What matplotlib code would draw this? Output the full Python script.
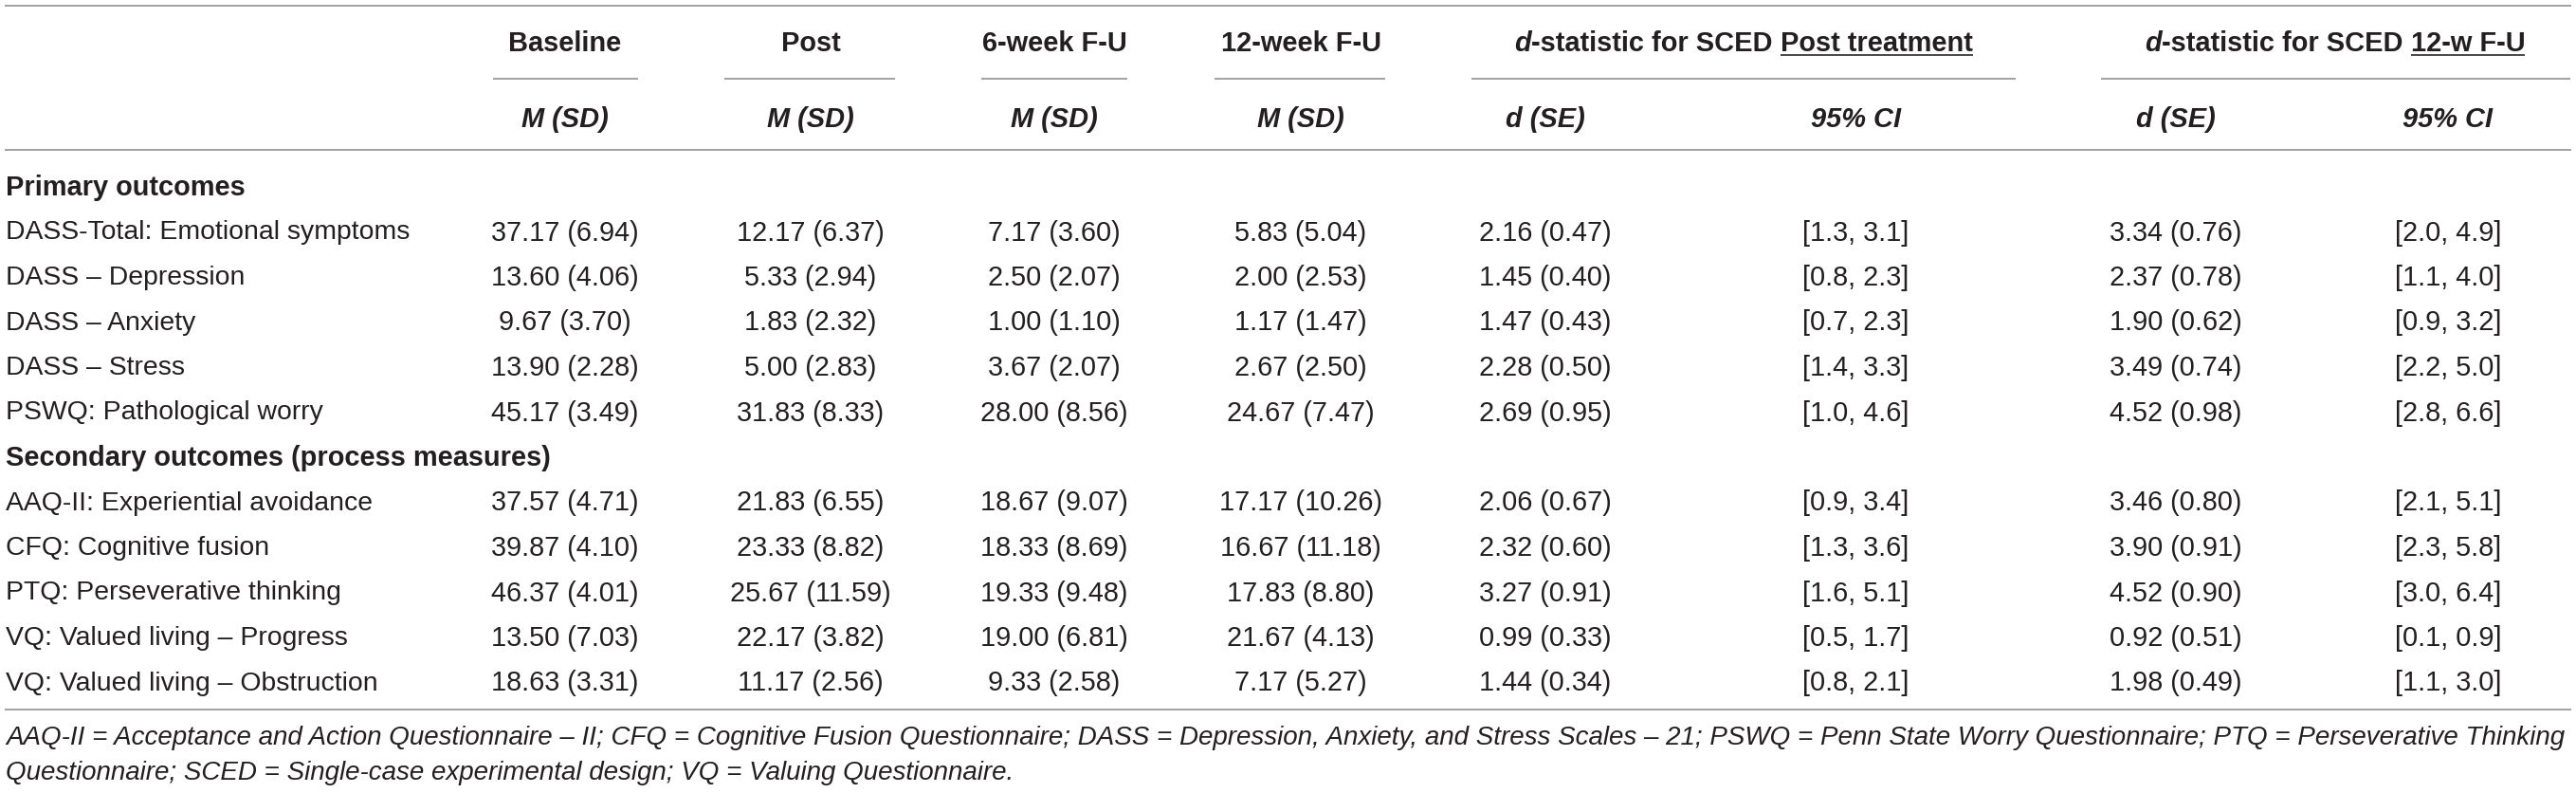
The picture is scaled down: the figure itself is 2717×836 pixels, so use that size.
import matplotlib
matplotlib.use("Agg")
import matplotlib.pyplot as plt

# ---------------- data ----------------
section_titles = ["Primary outcomes", "Secondary outcomes (process measures)"]
labels_primary = ["DASS-Total: Emotional symptoms", "DASS – Depression", "DASS – Anxiety",
                  "DASS – Stress", "PSWQ: Pathological worry"]
labels_secondary = ["AAQ-II: Experiential avoidance", "CFQ: Cognitive fusion",
                    "PTQ: Perseverative thinking", "VQ: Valued living – Progress",
                    "VQ: Valued living – Obstruction"]

baseline_m = [37.17, 13.60, 9.67, 13.90, 45.17, 37.57, 39.87, 46.37, 13.50, 18.63]
baseline_sd = [6.94, 4.06, 3.70, 2.28, 3.49, 4.71, 4.10, 4.01, 7.03, 3.31]
post_m = [12.17, 5.33, 1.83, 5.00, 31.83, 21.83, 23.33, 25.67, 22.17, 11.17]
post_sd = [6.37, 2.94, 2.32, 2.83, 8.33, 6.55, 8.82, 11.59, 3.82, 2.56]
fu6_m = [7.17, 2.50, 1.00, 3.67, 28.00, 18.67, 18.33, 19.33, 19.00, 9.33]
fu6_sd = [3.60, 2.07, 1.10, 2.07, 8.56, 9.07, 8.69, 9.48, 6.81, 2.58]
fu12_m = [5.83, 2.00, 1.17, 2.67, 24.67, 17.17, 16.67, 17.83, 21.67, 7.17]
fu12_sd = [5.04, 2.53, 1.47, 2.50, 7.47, 10.26, 11.18, 8.80, 4.13, 5.27]
d_post = [2.16, 1.45, 1.47, 2.28, 2.69, 2.06, 2.32, 3.27, 0.99, 1.44]
se_post = [0.47, 0.40, 0.43, 0.50, 0.95, 0.67, 0.60, 0.91, 0.33, 0.34]
ci_post_lo = [1.3, 0.8, 0.7, 1.4, 1.0, 0.9, 1.3, 1.6, 0.5, 0.8]
ci_post_hi = [3.1, 2.3, 2.3, 3.3, 4.6, 3.4, 3.6, 5.1, 1.7, 2.1]
d_fu12 = [3.34, 2.37, 1.90, 3.49, 4.52, 3.46, 3.90, 4.52, 0.92, 1.98]
se_fu12 = [0.76, 0.78, 0.62, 0.74, 0.98, 0.80, 0.91, 0.90, 0.51, 0.49]
ci_fu12_lo = [2.0, 1.1, 0.9, 2.2, 2.8, 2.1, 2.3, 3.0, 0.1, 1.1]
ci_fu12_hi = [4.9, 4.0, 3.2, 5.0, 6.6, 5.1, 5.8, 6.4, 0.9, 3.0]

time_headers = ["Baseline", "Post", "6-week F-U", "12-week F-U"]
footnote = ["AAQ-II = Acceptance and Action Questionnaire – II; CFQ = Cognitive Fusion Questionnaire; "
            "DASS = Depression, Anxiety, and Stress Scales – 21; PSWQ = Penn State Worry Questionnaire; "
            "PTQ = Perseverative Thinking",
            "Questionnaire; SCED = Single-case experimental design; VQ = Valuing Questionnaire."]

# ---------------- layout ----------------
W, H = 2717, 836
DPI = 100
FONT = "Liberation Sans"
TXT = "#231f20"
GRAY = "#a3a3a3"

fig = plt.figure(figsize=(W / DPI, H / DPI), dpi=DPI)
ax = fig.add_axes([0, 0, 1, 1])
ax.set_xlim(0, W)
ax.set_ylim(H, 0)
ax.axis("off")
renderer = fig.canvas.get_renderer()

col_x = [596, 855, 1112, 1372, 1630, 1957, 2295, 2582]
label_x = 6
row_y0 = 195
row_step = 47.5


def hline(x0, x1, y, lw=2.0, color=GRAY):
    ax.plot([x0, x1], [y, y], color=color, lw=lw * 72 / DPI, solid_capstyle="butt")


def txt(x, y, s, **kw):
    base = dict(fontfamily=FONT, color=TXT, va="center_baseline", fontsize=18)
    base.update(kw)
    return ax.text(x, y, s, **base)


def width_of(s, **kw):
    t = txt(0, 0, s, **kw)
    w = t.get_window_extent(renderer).width
    t.remove()
    return w


def fit_size(s, target, **kw):
    kw = dict(kw)
    kw["fontsize"] = 20.0
    return 20.0 * target / width_of(s, **kw)


FS_LAB = fit_size("DASS-Total: Emotional symptoms", 424)
FS_NUM = fit_size("37.17 (6.94)", 156)
FSH = fit_size("Primary outcomes", 253, fontweight="bold")
FSF = fit_size(footnote[0], 2701, style="italic")


def rich_center(xc, y, segs, underline=None):
    widths = [width_of(s, **k) for s, k in segs]
    total = sum(widths)
    x = xc - total / 2
    for (s, k), w in zip(segs, widths):
        txt(x, y, s, ha="left", **k)
        if underline is not None and s.strip() == underline:
            hline(x, x + w, y + 15, lw=1.6, color=TXT)
        x += w


# rules
hline(5, 2712, 6)
hline(5, 2712, 158)
hline(5, 2712, 748)
short = [(520, 673), (764, 944), (1035, 1189), (1281, 1461), (1552, 2126), (2216, 2711)]
for a, b in short:
    hline(a, b, 83)

# top headers
for cx, h in zip(col_x[:4], time_headers):
    txt(cx, 43, h, ha="center", fontweight="bold", fontsize=FSH)

bi = dict(fontweight="bold", style="italic", fontsize=FSH)
bd = dict(fontweight="bold", fontsize=FSH)
rich_center(1839, 43, [("d", bi), ("-statistic for SCED ", bd), ("Post treatment", bd)],
            underline="Post treatment")
rich_center(2463, 43, [("d", bi), ("-statistic for SCED ", bd), ("12-w F-U", bd)],
            underline="12-w F-U")

# sub headers
subs = ["M (SD)"] * 4 + ["d (SE)", "95% CI", "d (SE)", "95% CI"]
for cx, s in zip(col_x, subs):
    txt(cx, 123, s, ha="center", **bi)

# body
labels = labels_primary + labels_secondary
cols = []
for i in range(len(labels)):
    cols.append([
        f"{baseline_m[i]:.2f} ({baseline_sd[i]:.2f})",
        f"{post_m[i]:.2f} ({post_sd[i]:.2f})",
        f"{fu6_m[i]:.2f} ({fu6_sd[i]:.2f})",
        f"{fu12_m[i]:.2f} ({fu12_sd[i]:.2f})",
        f"{d_post[i]:.2f} ({se_post[i]:.2f})",
        f"[{ci_post_lo[i]:.1f}, {ci_post_hi[i]:.1f}]",
        f"{d_fu12[i]:.2f} ({se_fu12[i]:.2f})",
        f"[{ci_fu12_lo[i]:.1f}, {ci_fu12_hi[i]:.1f}]",
    ])

r = 0
ri = 0
for sec, labs in zip(section_titles, [labels_primary, labels_secondary]):
    y = row_y0 + r * row_step
    txt(label_x, y, sec, ha="left", fontweight="bold", fontsize=FSH)
    r += 1
    for lab in labs:
        y = row_y0 + r * row_step
        txt(label_x, y, lab, ha="left", fontsize=FS_LAB)
        for cx, s in zip(col_x, cols[ri]):
            txt(cx, y, s, ha="center", fontsize=FS_NUM)
        r += 1
        ri += 1

# footnote
txt(label_x, 775, footnote[0], ha="left", style="italic", fontsize=FSF)
txt(label_x, 812, footnote[1], ha="left", style="italic", fontsize=FSF)

fig.savefig("out.png", dpi=DPI)
